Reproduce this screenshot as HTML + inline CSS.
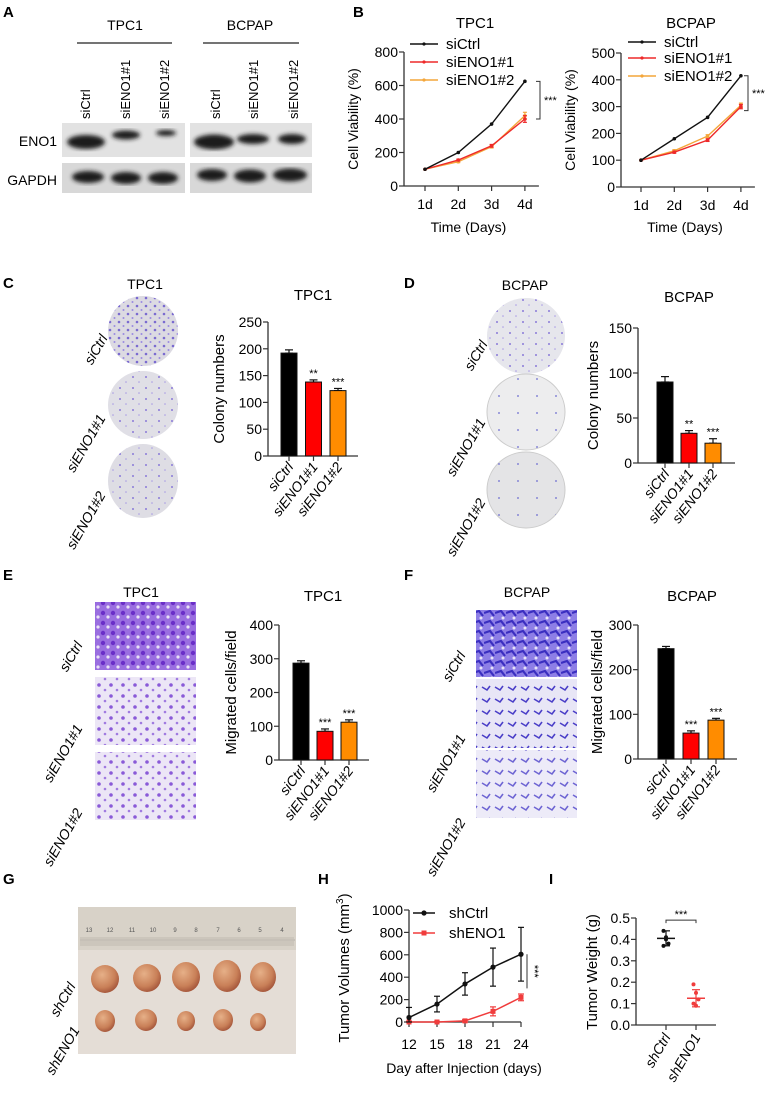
<!DOCTYPE html>
<html><head><meta charset="utf-8"><style>
html,body{margin:0;padding:0;background:#fff;}
svg{display:block;font-family:"Liberation Sans",Arial,sans-serif;}
</style></head><body>
<svg id="fig" width="770" height="1094" viewBox="0 0 770 1094" xmlns="http://www.w3.org/2000/svg">
<defs>
<filter id="blur2"><feGaussianBlur stdDeviation="2"/></filter>
<pattern id="dotsC" width="9" height="8" patternUnits="userSpaceOnUse"><circle cx="2" cy="2" r="1.3" fill="#7a6ad0"/><circle cx="6.5" cy="6" r="1" fill="#9a8ae0"/></pattern>
<pattern id="dotsSparse" width="13" height="11" patternUnits="userSpaceOnUse"><circle cx="3" cy="3" r="1" fill="#8a7ad8"/><circle cx="9" cy="8" r="0.8" fill="#a89ae4"/></pattern>
<pattern id="dotsRare" width="19" height="17" patternUnits="userSpaceOnUse"><circle cx="5" cy="5" r="0.9" fill="#6a6ad0"/></pattern>
<pattern id="migDense" width="10" height="10" patternUnits="userSpaceOnUse"><rect width="10" height="10" fill="#9a6ee0"/><circle cx="3" cy="3" r="2.2" fill="#6a2ec8"/><circle cx="8" cy="7" r="1.6" fill="#e8e0f6"/></pattern>
<pattern id="migLight" width="12" height="11" patternUnits="userSpaceOnUse"><rect width="12" height="11" fill="#ece6f6"/><circle cx="3" cy="3" r="1.8" fill="#8a5ad8"/><circle cx="9" cy="8" r="1.3" fill="#a07ae0"/></pattern>
<pattern id="migF" width="11" height="10" patternUnits="userSpaceOnUse"><rect width="11" height="10" fill="#8d7ee6"/><path d="M0 3 L6 1 L10 6" stroke="#3a2ec0" stroke-width="2.2" fill="none"/><circle cx="8" cy="8" r="1.5" fill="#e6e2f6"/></pattern>
<pattern id="migF2" width="13" height="12" patternUnits="userSpaceOnUse"><rect width="13" height="12" fill="#e8e6f6"/><path d="M1 3 L6 6 L9 2" stroke="#4a3ec8" stroke-width="1.6" fill="none"/></pattern>
<radialGradient id="tum" cx="40%" cy="35%" r="65%"><stop offset="0" stop-color="#e6b088"/><stop offset="0.7" stop-color="#c98058"/><stop offset="1" stop-color="#a85a3e"/></radialGradient>
</defs>

<!-- Panel A -->
<text x="3" y="17" font-size="15" font-weight="bold">A</text>
<text x="125" y="30" font-size="14" text-anchor="middle">TPC1</text>
<text x="250" y="30" font-size="14" text-anchor="middle">BCPAP</text>
<line x1="77" y1="43" x2="172" y2="43" stroke="#222" stroke-width="1.2"/>
<line x1="203" y1="43" x2="299" y2="43" stroke="#222" stroke-width="1.2"/>
<g font-size="13">
<text transform="translate(90,119) rotate(-90)">siCtrl</text>
<text transform="translate(130,119) rotate(-90)">siENO1#1</text>
<text transform="translate(169,119) rotate(-90)">siENO1#2</text>
<text transform="translate(220,119) rotate(-90)">siCtrl</text>
<text transform="translate(258,119) rotate(-90)">siENO1#1</text>
<text transform="translate(298,119) rotate(-90)">siENO1#2</text>
</g>
<text x="57" y="146" font-size="14" text-anchor="end">ENO1</text>
<text x="57" y="185" font-size="14" text-anchor="end">GAPDH</text>
<g>
<rect x="62" y="123" width="123" height="34" fill="#e2e2e2"/>
<rect x="190" y="123" width="122" height="34" fill="#e2e2e2"/>
<g filter="url(#blur2)" fill="#1a1a1a">
<ellipse cx="86" cy="142" rx="19" ry="7"/><ellipse cx="126" cy="135" rx="14" ry="4.5"/><ellipse cx="166" cy="133" rx="10" ry="3"/>
<ellipse cx="214" cy="142" rx="20" ry="7.5"/><ellipse cx="253" cy="139" rx="16" ry="5"/><ellipse cx="292" cy="139" rx="14" ry="5"/>
</g></g>
<g>
<rect x="62" y="163" width="123" height="30" fill="#d8d8d8"/>
<rect x="190" y="163" width="122" height="30" fill="#d8d8d8"/>
<g filter="url(#blur2)" fill="#1a1a1a">
<ellipse cx="88" cy="177" rx="16" ry="6"/><ellipse cx="126" cy="178" rx="15" ry="6"/><ellipse cx="163" cy="178" rx="15" ry="6"/>
<ellipse cx="212" cy="175" rx="15" ry="6"/><ellipse cx="250" cy="176" rx="16" ry="6.5"/><ellipse cx="290" cy="175" rx="17" ry="6.5"/>
</g></g>

<!-- Panel labels -->
<text x="353" y="17" font-size="15" font-weight="bold">B</text>
<text x="3" y="288" font-size="15" font-weight="bold">C</text>
<text x="404" y="288" font-size="15" font-weight="bold">D</text>
<text x="3" y="580" font-size="15" font-weight="bold">E</text>
<text x="404" y="580" font-size="15" font-weight="bold">F</text>
<text x="3" y="884" font-size="15" font-weight="bold">G</text>
<text x="318" y="884" font-size="15" font-weight="bold">H</text>
<text x="549" y="884" font-size="15" font-weight="bold">I</text>

<!-- Panel C plates -->
<text x="145" y="289" font-size="14" text-anchor="middle">TPC1</text>
<g>
<ellipse cx="143" cy="331" rx="35" ry="35" fill="#dcdae2"/><ellipse cx="143" cy="331" rx="35" ry="35" fill="url(#dotsC)"/>
<ellipse cx="143" cy="405" rx="35" ry="34" fill="#e0dfe6"/><ellipse cx="143" cy="405" rx="35" ry="34" fill="url(#dotsSparse)"/>
<ellipse cx="143" cy="481" rx="35" ry="37" fill="#dedde4"/><ellipse cx="143" cy="481" rx="35" ry="37" fill="url(#dotsSparse)"/>
</g>
<g font-size="14" font-style="italic" text-anchor="end">
<text transform="translate(108,338) rotate(-60)">siCtrl</text>
<text transform="translate(106,418) rotate(-60)">siENO1#1</text>
<text transform="translate(106,495) rotate(-60)">siENO1#2</text>
</g>
<!-- Panel D plates -->
<text x="525" y="290" font-size="14" text-anchor="middle">BCPAP</text>
<g>
<ellipse cx="526" cy="336" rx="39" ry="38" fill="#e6e6ec"/><ellipse cx="526" cy="336" rx="39" ry="38" fill="url(#dotsSparse)"/>
<ellipse cx="526" cy="412" rx="39" ry="38" fill="#ededee" stroke="#ccc"/><ellipse cx="526" cy="412" rx="39" ry="38" fill="url(#dotsRare)"/>
<ellipse cx="526" cy="490" rx="39" ry="38" fill="#e4e4e6" stroke="#ccc"/><ellipse cx="526" cy="490" rx="39" ry="38" fill="url(#dotsRare)"/>
</g>
<g font-size="14" font-style="italic" text-anchor="end">
<text transform="translate(488,344) rotate(-60)">siCtrl</text>
<text transform="translate(486,422) rotate(-60)">siENO1#1</text>
<text transform="translate(486,502) rotate(-60)">siENO1#2</text>
</g>

<!-- Panel E images -->
<text x="141" y="597" font-size="14" text-anchor="middle">TPC1</text>
<g>
<rect x="95" y="602" width="101" height="68" fill="url(#migDense)"/>
<rect x="95" y="677" width="101" height="68" fill="url(#migLight)"/>
<rect x="95" y="752" width="101" height="68" fill="url(#migLight)"/>
</g>
<g font-size="14" font-style="italic" text-anchor="end">
<text transform="translate(83,645) rotate(-60)">siCtrl</text>
<text transform="translate(83,728) rotate(-60)">siENO1#1</text>
<text transform="translate(83,812) rotate(-60)">siENO1#2</text>
</g>
<text x="527" y="597" font-size="14" text-anchor="middle">BCPAP</text>
<g>
<rect x="476" y="610" width="101" height="67" fill="url(#migF)"/>
<rect x="476" y="679" width="101" height="69" fill="url(#migF2)"/>
<rect x="476" y="750" width="101" height="68" fill="url(#migF2)" opacity="0.8"/>
</g>
<g font-size="14" font-style="italic" text-anchor="end">
<text transform="translate(466,655) rotate(-60)">siCtrl</text>
<text transform="translate(466,738) rotate(-60)">siENO1#1</text>
<text transform="translate(466,822) rotate(-60)">siENO1#2</text>
</g>

<!-- Panel G photo -->
<g>
<rect x="78" y="907" width="218" height="147" fill="#e4ddd6"/>
<rect x="78" y="907" width="218" height="43" fill="#d8d2c8"/>
<line x1="80" y1="940" x2="295" y2="940" stroke="#888" stroke-width="0.6"/>
<g font-size="6" fill="#555" text-anchor="middle">
<text x="89" y="932">13</text><text x="110" y="932">12</text><text x="132" y="932">11</text><text x="153" y="932">10</text><text x="175" y="932">9</text><text x="196" y="932">8</text><text x="218" y="932">7</text><text x="239" y="932">6</text><text x="260" y="932">5</text><text x="282" y="932">4</text>
</g>
<rect x="80" y="937" width="214" height="9" fill="#c8c0b6" opacity="0.7"/>
<ellipse cx="105" cy="979" rx="14" ry="14" fill="url(#tum)"/>
<ellipse cx="147" cy="978" rx="14" ry="14" fill="url(#tum)"/>
<ellipse cx="186" cy="977" rx="14" ry="15" fill="url(#tum)"/>
<ellipse cx="227" cy="976" rx="14" ry="16" fill="url(#tum)"/>
<ellipse cx="263" cy="977" rx="13" ry="15" fill="url(#tum)"/>
<ellipse cx="105" cy="1021" rx="10" ry="11" fill="url(#tum)"/>
<ellipse cx="146" cy="1020" rx="11" ry="11" fill="url(#tum)"/>
<ellipse cx="186" cy="1021" rx="9" ry="10" fill="url(#tum)"/>
<ellipse cx="223" cy="1020" rx="10" ry="11" fill="url(#tum)"/>
<ellipse cx="258" cy="1022" rx="8" ry="9" fill="url(#tum)"/>
</g>
<g font-size="14" font-style="italic" text-anchor="end">
<text transform="translate(76,986) rotate(-60)">shCtrl</text>
<text transform="translate(80,1030) rotate(-60)">shENO1</text>
</g>
<g id="charts"></g>
</svg>
<script>
// ===== Chart data =====
const daysB = ["1d","2d","3d","4d"];
const tpc1Ctrl = [100, 200, 370, 625];
const tpc1Si1 = [100, 155, 240, 400];
const tpc1Si2 = [100, 145, 235, 420];
const tpc1Err1 = [0, 5, 8, 20];
const tpc1Err2 = [0, 5, 8, 20];
const bcpapCtrl = [100, 180, 260, 415];
const bcpapSi1 = [100, 130, 175, 300];
const bcpapSi2 = [100, 135, 190, 305];
const bcpapErr = [0, 4, 5, 8];
const tpc1TicksB = [0, 200, 400, 600, 800];
const bcpapTicksB = [0, 100, 200, 300, 400, 500];

const barGroups = ["siCtrl", "siENO1#1", "siENO1#2"];
const colonyTpc1 = [192, 138, 122];
const colonyTpc1Err = [6, 4, 4];
const colonyTpc1Stars = ["", "**", "***"];
const colonyTpc1Ticks = [0, 50, 100, 150, 200, 250];
const colonyBcpap = [90, 33, 22];
const colonyBcpapErr = [6, 3, 5];
const colonyBcpapStars = ["", "**", "***"];
const colonyBcpapTicks = [0, 50, 100, 150];
const migTpc1 = [287, 85, 112];
const migTpc1Err = [7, 7, 7];
const migTpc1Stars = ["", "***", "***"];
const migTpc1Ticks = [0, 100, 200, 300, 400];
const migBcpap = [247, 58, 87];
const migBcpapErr = [5, 5, 4];
const migBcpapStars = ["", "***", "***"];
const migBcpapTicks = [0, 100, 200, 300];

const daysH = [12, 15, 18, 21, 24];
const volCtrl = [40, 160, 340, 490, 605];
const volCtrlErr = [90, 70, 100, 170, 240];
const volSh = [0, 0, 10, 95, 220];
const volShErr = [5, 5, 10, 40, 30];
const volTicks = [0, 200, 400, 600, 800, 1000];

const weightGroups = ["shCtrl", "shENO1"];
const weightCtrlPts = [0.44, 0.41, 0.38, 0.37, 0.40];
const weightShPts = [0.19, 0.15, 0.12, 0.10, 0.09];
const weightMean = [0.405, 0.125];
const weightSd = [0.035, 0.04];
const weightTicks = [0, 0.1, 0.2, 0.3, 0.4, 0.5];

// ===== helpers =====
const NS = "http://www.w3.org/2000/svg";
const root = document.getElementById("charts");
function mk(parent, tag, attrs, name, inter) {
  const el = document.createElementNS(NS, tag);
  for (const k in attrs) el.setAttribute(k, attrs[k]);
  
  
  parent.appendChild(el);
  return el;
}
function txt(parent, x, y, s, size, anchor, name, extra) {
  const t = mk(parent, "text", Object.assign({x: x, y: y, "font-size": size, "text-anchor": anchor || "start"}, extra || {}), name, false);
  t.textContent = s;
  return t;
}
function yAxis(g, ax, yf, ticks, fmt, x2) {
  const y0 = yf(ticks[0]), y1 = yf(ticks[ticks.length - 1]);
  mk(g, "line", {x1: ax, y1: y0, x2: ax, y2: y1, stroke: "#333", "stroke-width": 1.3}, "y-axis-line");
  mk(g, "line", {x1: ax, y1: y0, x2: x2, y2: y0, stroke: "#333", "stroke-width": 1.3}, "x-axis-line");
  ticks.forEach(v => {
    const y = yf(v);
    mk(g, "line", {x1: ax - 5, y1: y, x2: ax, y2: y, stroke: "#333", "stroke-width": 1.2}, "y-tick");
    txt(g, ax - 6, y + 5, fmt(v), 14, "end", "y-tick-label");
  });
}
function errBar(g, x, y1, y2, w, color, name) {
  mk(g, "line", {x1: x, y1: y1, x2: x, y2: y2, stroke: color, "stroke-width": 1.2}, name);
  mk(g, "line", {x1: x - w, y1: y1, x2: x + w, y2: y1, stroke: color, "stroke-width": 1.2}, name + "-cap");
  mk(g, "line", {x1: x - w, y1: y2, x2: x + w, y2: y2, stroke: color, "stroke-width": 1.2}, name + "-cap");
}

// ===== B line charts =====
function viabilityChart(cfg) {
  const g = mk(root, "g", {}, cfg.name);
  const xf = i => cfg.x0 + i * cfg.dx;
  const yf = v => cfg.yb - v / cfg.max * cfg.h;
  txt(g, cfg.titleX, 28, cfg.title, 15, "middle", "chart-title");
  yAxis(g, cfg.ax, yf, cfg.ticks, v => String(v), xf(daysB.length - 1) + 14);
  daysB.forEach((d, i) => {
    mk(g, "line", {x1: xf(i), y1: yf(0), x2: xf(i), y2: yf(0) + 5, stroke: "#333", "stroke-width": 1.2}, "x-tick");
    txt(g, xf(i), yf(0) + 23, d, 14, "middle", "x-tick-label");
  });
  txt(g, (cfg.ax + xf(3)) / 2 + 4, 232, "Time (Days)", 14, "middle", "x-axis-title");
  txt(g, 0, 0, "Cell Viability (%)", 14, "middle", "y-axis-title", {transform: "translate(" + cfg.ytX + "," + (cfg.yb - cfg.h / 2) + ") rotate(-90)"});
  const series = [
    {d: cfg.s3, c: "#f4a63a", e: cfg.e2, n: "siENO1#2"},
    {d: cfg.s2, c: "#ee2a2a", e: cfg.e1, n: "siENO1#1"},
    {d: cfg.s1, c: "#111", e: null, n: "siCtrl"}
  ];
  series.forEach(s => {
    const pts = s.d.map((v, i) => xf(i) + "," + yf(v)).join(" ");
    mk(g, "polyline", {points: pts, fill: "none", stroke: s.c, "stroke-width": 1.4}, "series-line-" + s.n.toLowerCase().replace("#", ""));
    s.d.forEach((v, i) => {
      if (s.e && s.e[i]) errBar(g, xf(i), yf(v + s.e[i]), yf(v - s.e[i]), 2, s.c, "error-bar");
      mk(g, "circle", {cx: xf(i), cy: yf(v), r: 1.8, fill: s.c}, "data-point");
    });
  });
  ["siCtrl", "siENO1#1", "siENO1#2"].forEach((n, i) => {
    const c = ["#111", "#ee2a2a", "#f4a63a"][i];
    const ly = cfg.legY[i];
    mk(g, "line", {x1: cfg.legX, y1: ly, x2: cfg.legX + 28, y2: ly, stroke: c, "stroke-width": 1.4}, "legend-line");
    mk(g, "circle", {cx: cfg.legX + 14, cy: ly, r: 1.6, fill: c}, "legend-marker");
    txt(g, cfg.legX + 36, ly + 5, n, 15, "start", "legend-entry");
  });
  const bx = cfg.bx, top = yf(cfg.s1[3]), bot = yf(Math.max(cfg.s2[3], cfg.s3[3]) - 20);
  mk(g, "polyline", {points: (bx - 4) + "," + top + " " + bx + "," + top + " " + bx + "," + bot + " " + (bx - 4) + "," + bot, fill: "none", stroke: "#333", "stroke-width": 1}, "significance-bracket");
  txt(g, bx + 4, (top + bot) / 2 + 4, "***", 11, "start", "significance-stars");
}
viabilityChart({name: "viability-chart-tpc1", title: "TPC1", titleX: 475, ax: 404, x0: 425, dx: 33.3, yb: 186, h: 134, max: 800, ticks: tpc1TicksB,
  s1: tpc1Ctrl, s2: tpc1Si1, s3: tpc1Si2, e1: tpc1Err1, e2: tpc1Err2, legX: 410, legY: [44, 62, 80], bx: 540, ytX: 358});
viabilityChart({name: "viability-chart-bcpap", title: "BCPAP", titleX: 691, ax: 621, x0: 641, dx: 33.3, yb: 187, h: 134, max: 500, ticks: bcpapTicksB,
  s1: bcpapCtrl, s2: bcpapSi1, s3: bcpapSi2, e1: bcpapErr, e2: bcpapErr, legX: 628, legY: [42, 58, 76], bx: 748, ytX: 575});

// ===== bar charts =====
function barChart(cfg) {
  const g = mk(root, "g", {}, cfg.name);
  const yf = v => cfg.yb - v / cfg.max * cfg.h;
  txt(g, cfg.titleX, cfg.titleY, cfg.title, 15, "middle", "chart-title");
  yAxis(g, cfg.ax, yf, cfg.ticks, v => String(v), cfg.xEnd);
  const colors = ["#000", "#f00", "#ff8c00"];
  cfg.vals.forEach((v, i) => {
    const x = cfg.ax + cfg.off + i * cfg.step;
    errBar(g, x, yf(v + cfg.err[i]), yf(v), 4, "#111", "error-bar");
    mk(g, "rect", {x: x - 8, y: yf(v), width: 16, height: yf(0) - yf(v), fill: colors[i], stroke: "#111", "stroke-width": 1}, "bar-" + barGroups[i].toLowerCase().replace("#", ""));
    mk(g, "line", {x1: x, y1: yf(0), x2: x, y2: yf(0) + 5, stroke: "#333", "stroke-width": 1.2}, "x-tick");
    txt(g, 0, 0, barGroups[i], 14, "end", "x-tick-label", {"font-style": "italic", transform: "translate(" + (x + 5) + "," + (yf(0) + 11) + ") rotate(-52)"});
    if (cfg.stars[i]) txt(g, x, yf(v + cfg.err[i]) - 3, cfg.stars[i], 11, "middle", "significance-stars");
  });
  txt(g, 0, 0, cfg.ytitle, 15, "middle", "y-axis-title", {transform: "translate(" + cfg.ytX + "," + (cfg.yb - cfg.h / 2) + ") rotate(-90)"});
}
barChart({name: "colony-chart-tpc1", title: "TPC1", titleX: 313, titleY: 300, ax: 268, off: 21, step: 24.5, xEnd: 358, yb: 456, h: 134, max: 250,
  vals: colonyTpc1, err: colonyTpc1Err, stars: colonyTpc1Stars, ticks: colonyTpc1Ticks, ytitle: "Colony numbers", ytX: 224});
barChart({name: "colony-chart-bcpap", title: "BCPAP", titleX: 689, titleY: 302, ax: 638, off: 27, step: 24, xEnd: 735, yb: 463, h: 135, max: 150,
  vals: colonyBcpap, err: colonyBcpapErr, stars: colonyBcpapStars, ticks: colonyBcpapTicks, ytitle: "Colony numbers", ytX: 598});
barChart({name: "migration-chart-tpc1", title: "TPC1", titleX: 323, titleY: 601, ax: 279, off: 22, step: 24, xEnd: 369, yb: 760, h: 135, max: 400,
  vals: migTpc1, err: migTpc1Err, stars: migTpc1Stars, ticks: migTpc1Ticks, ytitle: "Migrated cells/field", ytX: 236});
barChart({name: "migration-chart-bcpap", title: "BCPAP", titleX: 692, titleY: 601, ax: 638, off: 28, step: 25, xEnd: 737, yb: 759, h: 134, max: 300,
  vals: migBcpap, err: migBcpapErr, stars: migBcpapStars, ticks: migBcpapTicks, ytitle: "Migrated cells/field", ytX: 602});

// ===== H tumor volumes =====
(function () {
  const g = mk(root, "g", {}, "tumor-volume-chart");
  const xf = d => 409 + (d - 12) / 12 * 112;
  const yf = v => 1022 - v / 1000 * 112;
  yAxis(g, 409, yf, volTicks, v => String(v), 521);
  daysH.forEach(d => {
    mk(g, "line", {x1: xf(d), y1: yf(0), x2: xf(d), y2: yf(0) + 5, stroke: "#333", "stroke-width": 1.2}, "x-tick");
    txt(g, xf(d), 1049, String(d), 14, "middle", "x-tick-label");
  });
  txt(g, 464, 1073, "Day after Injection (days)", 14, "middle", "x-axis-title");
  const yt = txt(g, 0, 0, "Tumor Volumes (mm", 15, "middle", "y-axis-title", {transform: "translate(349,968) rotate(-90)"});
  const sup = document.createElementNS(NS, "tspan");
  sup.setAttribute("dy", "-6"); sup.setAttribute("font-size", "10"); sup.textContent = "3";
  
  
  yt.appendChild(sup);
  const cl = document.createElementNS(NS, "tspan");
  cl.setAttribute("dy", "6"); cl.textContent = ")";
  
  
  yt.appendChild(cl);
  [{d: volSh, e: volShErr, c: "#f03c3c", n: "shENO1", sq: true}, {d: volCtrl, e: volCtrlErr, c: "#111", n: "shCtrl", sq: false}].forEach(s => {
    mk(g, "polyline", {points: s.d.map((v, i) => xf(daysH[i]) + "," + yf(v)).join(" "), fill: "none", stroke: s.c, "stroke-width": 1.5}, "series-line-" + s.n.toLowerCase());
    s.d.forEach((v, i) => {
      errBar(g, xf(daysH[i]), yf(v + s.e[i]), yf(Math.max(0, v - s.e[i])), 3, s.c, "error-bar");
      if (s.sq) mk(g, "rect", {x: xf(daysH[i]) - 2.5, y: yf(v) - 2.5, width: 5, height: 5, fill: s.c}, "data-point");
      else mk(g, "circle", {cx: xf(daysH[i]), cy: yf(v), r: 2.6, fill: s.c}, "data-point");
    });
  });
  mk(g, "line", {x1: 413, y1: 913, x2: 435, y2: 913, stroke: "#111", "stroke-width": 1.5}, "legend-line");
  mk(g, "circle", {cx: 424, cy: 913, r: 2.6, fill: "#111"}, "legend-marker");
  txt(g, 449, 918, "shCtrl", 15, "start", "legend-entry");
  mk(g, "line", {x1: 413, y1: 933, x2: 435, y2: 933, stroke: "#f03c3c", "stroke-width": 1.5}, "legend-line");
  mk(g, "rect", {x: 421.5, y: 930.5, width: 5, height: 5, fill: "#f03c3c"}, "legend-marker");
  txt(g, 449, 938, "shENO1", 15, "start", "legend-entry");
  mk(g, "line", {x1: 527, y1: yf(volCtrl[4]), x2: 527, y2: yf(volSh[4] + 80), stroke: "#333", "stroke-width": 1}, "significance-bracket");
  txt(g, 0, 0, "***", 11, "middle", "significance-stars", {transform: "translate(531," + (yf((volCtrl[4] + volSh[4]) / 2 + 40)) + ") rotate(90)"});
})();

// ===== I tumor weights =====
(function () {
  const g = mk(root, "g", {}, "tumor-weight-chart");
  const xs = [666, 696];
  const yf = v => 1025 - v / 0.5 * 107;
  yAxis(g, 636, yf, weightTicks, v => v.toFixed(1), 716);
  txt(g, 0, 0, "Tumor Weight (g)", 15, "middle", "y-axis-title", {transform: "translate(597,972) rotate(-90)"});
  const cols = ["#111", "#f03c3c"];
  [weightCtrlPts, weightShPts].forEach((pts, gi) => {
    const x = xs[gi];
    pts.forEach((v, j) => mk(g, "circle", {cx: x + (j % 3 - 1) * 2.5, cy: yf(v), r: 2, fill: cols[gi]}, "data-point"));
    mk(g, "line", {x1: x - 9, y1: yf(weightMean[gi]), x2: x + 9, y2: yf(weightMean[gi]), stroke: cols[gi], "stroke-width": 1.5}, "mean-line");
    errBar(g, x, yf(weightMean[gi] + weightSd[gi]), yf(weightMean[gi] - weightSd[gi]), 4, cols[gi], "error-bar");
    mk(g, "line", {x1: x, y1: yf(0), x2: x, y2: yf(0) + 5, stroke: "#333", "stroke-width": 1.2}, "x-tick");
    txt(g, 0, 0, weightGroups[gi], 14, "end", "x-tick-label", {"font-style": "italic", transform: "translate(" + (x + 5) + "," + (yf(0) + 12) + ") rotate(-60)"});
  });
  const by = yf(0.49);
  mk(g, "polyline", {points: xs[0] + "," + (by + 3) + " " + xs[0] + "," + by + " " + xs[1] + "," + by + " " + xs[1] + "," + (by + 3), fill: "none", stroke: "#333", "stroke-width": 1}, "significance-bracket");
  txt(g, (xs[0] + xs[1]) / 2, by - 2, "***", 11, "middle", "significance-stars");
})();
</script>
</body></html>
